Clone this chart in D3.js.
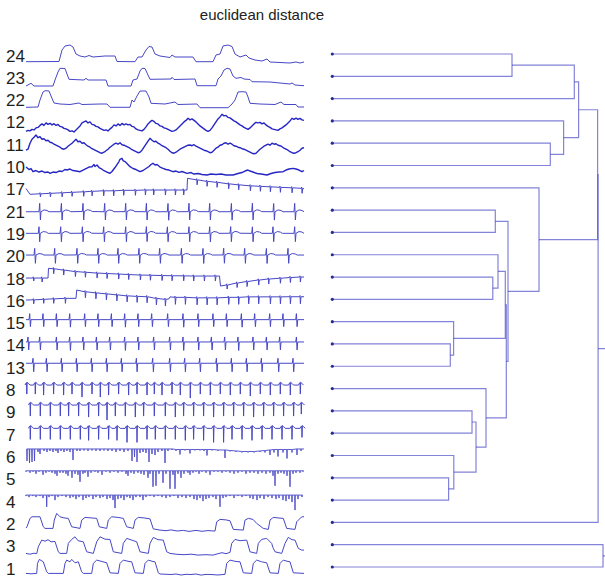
<!DOCTYPE html>
<html>
<head>
<meta charset="utf-8">
<title>euclidean distance</title>
<script src="https://d3js.org/d3.v7.min.js"></script>
<style>
body { margin: 0; background: #fff; font-family: "Liberation Sans", Arial, sans-serif; }
svg { display: block; }
</style>
</head>
<body>
<svg width="605" height="579"></svg>
<script>
// leaf order of the dendrogram, top to bottom
var leafOrder = [24,23,22,12,11,10,17,21,19,20,18,16,15,14,13,8,9,7,6,5,4,2,3,1];

// linkage rows: [cluster a, cluster b, distance]; new clusters numbered from 25
var linkage = [
  [5, 4, 116.3], [14, 13, 118], [15, 26, 121.3], [6, 25, 121.5],
  [9, 7, 139.7], [29, 28, 143.7], [8, 30, 153.7], [18, 16, 160.5],
  [21, 19, 163], [20, 32, 165.7], [34, 27, 173], [35, 31, 174],
  [33, 36, 175.7], [24, 23, 179.7], [17, 37, 206.7], [11, 10, 218],
  [12, 40, 231.3], [38, 22, 242], [42, 41, 246.3], [43, 39, 265.3],
  [44, 2, 265.8], [3, 1, 270.7], [45, 46, 285]
];

// ---- time series, [time, amplitude] ----
var s24 = [[0,-7.7],[33,-7.5],[36,4],[39,8],[44,9],[47,7],[50,0],[54,-2],[59,-3],[63,-1.5],[67,-3],[79,-2],[89,-2],[91,-7.5],[109,-7.7],[112,-3],[116,-3],[120,4],[123,7.5],[126,7],[129,0],[134,-2],[144,-3.5],[146,-1],[149,-3],[167,-3],[170,-7.7],[187,-7.7],[190,-1],[194,0],[197,8],[202,9],[206,7.5],[209,0],[214,-3],[220,-1],[223,-4],[229,-6],[236,-7],[241,-5],[244,-8],[264,-9],[270,-8],[274,-9],[278,-8]];
var s23 = [[0,-9.7],[5,-7],[8,-9.7],[27,-9.7],[29,-3.7],[32,4.3],[34,8],[39,7.8],[41,2.3],[43,-3],[58,-3.7],[60,-2],[62,-3.7],[80,-3.7],[82,-9.7],[105,-9.7],[107,-3.7],[111,-2.7],[114,5.3],[116,8],[119,7.8],[122,1.3],[124,-3],[145,-2.7],[146,-1],[148,-3.2],[169,-2.7],[171,-9.4],[190,-9.4],[192,-2.7],[195,0.3],[198,6.3],[201,8],[204,7.3],[207,0.3],[210,-2],[215,-1.2],[218,-2.7],[224,-3.2],[226,-5.4],[244,-5.7],[254,-6.7],[264,-7.7],[266,-6.7],[269,-8.7],[278,-9.4]];
var s22 = [[0,-8.7],[12,-8.4],[14,-1.4],[17,6.6],[19,7.9],[23,7.6],[25,2.6],[28,-4.4],[34,-5.4],[44,-5.9],[53,-4.4],[56,-5.9],[74,-5.4],[81,-5.4],[84,-8.7],[104,-8.7],[106,-1.4],[108,-3.4],[111,2.6],[114,7.6],[120,7.6],[123,1.6],[125,-4.7],[139,-5.4],[149,-3.4],[152,-5.9],[171,-5.4],[174,-9.1],[202,-9.1],[206,-5.4],[209,-1.4],[212,6.6],[216,6.9],[220,6.6],[222,1.6],[224,-4.7],[234,-5.4],[249,-5.9],[255,-3.4],[258,-5.9],[270,-5.9],[272,-8.4],[278,-8.4]];
var s12 = [[0,-10.5],[2,-9.5],[4,-10],[6,-8.5],[8,-9],[10,-7],[12,-6.5],[14,-4.5],[16,-3],[18,-4.5],[20,-2],[22,-3.5],[24,-2.4],[26,-4],[28,-2.8],[30,-4.5],[32,-3.5],[34,-5.5],[36,-6],[38,-7.5],[40,-8],[42,-9],[44,-10.5],[46,-10],[48,-11],[50,-9],[52,-7],[54,-5],[56,-2],[58,-1],[60,0],[62,-2],[64,-1],[66,-3.5],[68,-4],[70,-5.5],[72,-6],[74,-7.5],[76,-8.5],[78,-9.5],[80,-9],[82,-10],[84,-8],[86,-6.5],[88,-4],[90,-5],[92,-3],[94,-4.5],[96,-2.5],[98,-4],[100,-3],[102,-4],[104,-3.5],[106,-5.5],[108,-6],[110,-8],[112,-9],[114,-9.5],[116,-10],[118,-8.5],[120,-6],[122,-3],[124,-1],[126,0.5],[128,-0.5],[130,-2.5],[132,-3],[134,-5],[136,-5.5],[138,-7],[140,-7.5],[142,-8.5],[144,-9.5],[146,-10.5],[148,-10],[150,-9],[152,-7],[154,-5],[156,-3],[158,-1],[160,0.5],[162,2.6],[164,1],[166,2],[168,0.5],[170,-1],[172,-3],[174,-5],[176,-6.5],[178,-8],[180,-9.5],[182,-10.5],[184,-9.5],[186,-7],[188,-4],[190,-1],[192,2],[194,4],[196,6.6],[198,5],[200,5.5],[202,3.5],[204,3],[206,1.5],[208,0],[210,-1],[212,-2.5],[214,-4],[216,-5],[218,-6.5],[220,-7.5],[222,-8.5],[224,-7],[226,-5],[228,-3],[230,-1.4],[232,-2],[234,-1.5],[236,-3],[238,-2],[240,-4],[242,-5.5],[244,-6.5],[246,-8],[248,-8.5],[250,-9],[252,-9.5],[254,-8],[256,-7],[258,-5.5],[260,-4],[262,-2],[264,0],[266,2.6],[268,1.5],[270,2.8],[272,1.5],[274,2.5],[276,1],[278,0.5]];
var s11 = [[0,-7],[2,-6],[4,0],[6,4],[8,6],[10,8.2],[12,5.5],[14,6.5],[16,4],[18,4.5],[20,2.5],[22,3],[24,1],[26,0.5],[28,-1],[30,-2],[32,-3],[34,-4],[36,-5.5],[38,-6],[40,-5],[42,-3],[44,-1.5],[46,0],[48,2],[50,3.9],[52,1.5],[54,2],[56,0],[58,0.5],[60,-1.5],[62,-3],[64,-4],[66,-5.5],[68,-6.5],[70,-7.5],[72,-8.5],[74,-9.5],[76,-10],[78,-9],[80,-7.5],[82,-6],[84,-4],[86,-2.5],[88,-1],[90,0],[92,-1],[94,0.5],[96,-1.5],[98,-2],[100,-3],[102,-4],[104,-5],[106,-6.5],[108,-7.5],[110,-8.5],[112,-9.5],[114,-9],[116,-7],[118,-4],[120,-1],[122,2],[124,4.9],[126,3],[128,1.5],[130,2],[132,0],[134,-1],[136,-2.5],[138,-3.5],[140,-4.5],[142,-6],[144,-8],[146,-9.5],[148,-10],[150,-9],[152,-7.5],[154,-6],[156,-5],[158,-4],[160,-3],[162,-2],[164,-1.8],[166,-2.5],[168,-1.5],[170,-3],[172,-4],[174,-5],[176,-6],[178,-7],[180,-7.5],[182,-8.5],[184,-9.5],[186,-9],[188,-7],[190,-5],[192,-4],[194,-2],[196,-1.5],[198,0],[200,0.5],[202,-1],[204,0],[206,-1],[208,-2.5],[210,-3],[212,-4],[214,-4.5],[216,-5.5],[218,-6],[220,-7],[222,-8],[224,-9],[226,-10],[228,-10.5],[230,-10],[232,-8],[234,-6],[236,-4.5],[238,-3],[240,-2],[242,-1],[244,-2],[246,0],[248,-1],[250,-0.5],[252,-2],[254,-2.5],[256,-3.5],[258,-5],[260,-6],[262,-7],[264,-8.5],[266,-9.5],[268,-10],[270,-9.5],[272,-8.5],[274,-7],[276,-5],[278,-4.5]];
var s10 = [[0,-1.5],[3,-4],[5,-3],[7,-6.2],[10,-5],[13,-6.5],[16,-5.5],[19,-7],[22,-6.5],[24,-7.8],[27,-6.5],[30,-7],[33,-5.5],[36,-6],[39,-4],[41,-4.5],[44,-3.5],[47,-5],[50,-5.5],[54,-6.2],[57,-4.5],[60,-3],[63,-1.5],[66,-1.2],[68,1],[69,-1],[71,0.5],[73,-2],[75,-3],[77,-4.5],[80,-6],[82,-7],[84,-7.8],[86,-6],[89,-2],[91,1],[93,4],[94,6.2],[96,7.2],[97,5],[99,4],[101,2],[104,-1.2],[107,-3],[110,-4],[114,-6.2],[117,-5],[120,-3],[123,-1],[125,1],[127,2.2],[129,0.5],[131,1],[134,-1.5],[137,-2.8],[140,-4],[143,-4.5],[147,-6.2],[150,-5.5],[153,-6.8],[156,-6],[161,-7.8],[165,-7],[168,-8.5],[172,-8],[176,-9],[181,-9.5],[185,-8.5],[190,-9],[195,-8.5],[200,-9.5],[207,-9.5],[212,-8],[216,-7],[219,-5.5],[222,-4.5],[224,-5.5],[227,-6.5],[231,-8],[235,-8.5],[241,-9.5],[245,-8],[249,-7],[253,-6.5],[257,-6.2],[260,-4.5],[263,-3.5],[267,-2.8],[270,-3.5],[273,-4.5],[276,-6.2],[278,-5]];

// beats with a small down tick: [time, baseline, depth]
var s17 = [[0,-0.7,0],[4,-6.5,0],[14,-6,3],[24,-5.5,3.5],[35.7,-5,4],[45.7,-4.5,4],[57.3,-4,4.5],[65.7,-3.5,4.5],[77.3,-3,5],[87.3,-3,5],[97.3,-2.5,5],[109,-2.5,5],[119,-2.2,5],[127.3,-2.2,5],[139,-2.2,5],[149,-2.2,5],[157.3,-2.2,5],[161,-2.2,0],[161.5,9.5,0],[170.7,8,5],[180.7,6.5,5],[190.7,5.5,5],[202.3,4,5],[212.3,3,5],[224,2,5],[234,1.5,5],[244,1,5],[254,0.5,5],[265.7,0,5],[275.7,-0.5,5],[278,-1,0]];
var s18 = [[0,-1,0],[7.3,-1,3],[15.7,-1,4],[22,-1,0],[22.5,8.7,0],[27.3,8.3,5],[37.3,7,5],[49,5.5,5],[59,4.8,5],[70.7,4,5],[80.7,3.5,5],[92.3,3,5],[102.3,2.5,5],[114,2,5],[124,1.8,5],[135.7,1.5,5],[145.7,1.3,5],[157.3,1.2,5],[167.3,1,5],[178,1,5],[189,1,5],[193.5,1,0],[194.5,-9,0],[200.7,-8,4],[210.7,-6,4.5],[220.7,-4.5,5],[232.3,-3,5],[242.3,-2,5],[254,-1.2,5],[264,-0.5,5],[274,0,5],[278,0,0]];
var s16 = [[0,-0.7,0],[7.3,-0.5,4],[17.3,0,4],[27.3,0.5,4.5],[39,1,5],[50,1,0],[50.7,9.3,0],[59,7.6,6],[69.5,6.5,6],[80,5.5,6],[90.5,4.5,6],[100.7,3.5,6],[110.7,3,6],[120.7,2.6,6],[130,1,6.5],[139,0,6.5],[143,0.5,0],[144,2.5,0],[149,2,7],[159,2,7],[170.7,1.5,7],[180.7,1.5,7],[190.7,1.5,7],[202.3,2,7],[212.3,2,7],[222.3,2.5,7],[232.3,2.5,7],[244,2.5,7],[254,2.5,7],[264,2.6,7],[274,2.6,7],[278,2.6,0]];

// QRS-like beats: [time, baseline, up, down]
var s21 = [[14,-1.6,8.4,8.3],[35.7,-1.6,8.4,8.3],[57.3,-1.4,8.2,8.5],[79,-1.6,8.4,8.3],[100,-1.5,8.3,8.4],[120.7,-1.6,8.4,8.3],[142.3,-1.6,8.2,8.5],[163.3,-1.5,8.4,8.3],[184,-1.6,8.4,8.3],[205.7,-1.6,8.3,8.4],[226.7,-1.5,8.4,8.3],[248,-1.6,8.2,8.4],[269,-1.6,8.4,8.3]];
var s19 = [[13.3,-0.9,6.6,8.4],[35,-0.9,6.6,8.4],[56.7,-0.8,6.5,8.5],[78,-0.9,6.6,8.4],[100,-0.9,6.6,8.4],[120.7,-0.8,6.6,8.3],[141.7,-0.9,6.5,8.4],[163.3,-0.9,6.6,8.4],[184,-0.9,6.6,8.5],[205,-0.8,6.6,8.4],[226.7,-0.9,6.5,8.4],[247.3,-0.9,6.6,8.4],[269,-0.9,6.6,8.3]];
var s20 = [[9,-0.3,6.7,8.3],[29,-0.3,6.7,8.3],[51.3,-0.2,6.6,8.4],[72.3,-0.3,6.7,8.3],[92.3,-0.3,6.7,8.3],[113.3,-0.2,6.6,8.4],[134,-0.3,6.7,8.3],[155.7,-0.3,6.7,8.3],[177.3,-0.3,6.6,8.4],[198,-0.2,6.7,8.3],[219,-0.3,6.7,8.3],[240.7,-0.3,6.6,8.4],[262.3,-0.3,6.7,8.3]];
var s15 = [[4,2,6,7],[17.3,2,6,7],[30.7,2,6,7],[44,2,6,7.5],[59,2,6,7],[72.3,2,6,7],[85.7,2,6,7],[99,2,6,7.5],[112.3,2,6,7],[126,2,6,7],[142,2,6,7],[157.3,2,6,7.5],[172.3,2,6,7],[187.3,2,6,7],[200.7,2,6,7],[215.7,2,6,7.5],[229,2,6,7],[244,2,6,7],[257.3,2,6,7],[270.7,2,6,7]];
var s14 = [[2.3,2,5,8],[14,2,5,8],[30.7,2,5,8],[44,2,5,8.5],[57.3,2,5,8],[70.7,2,5,8],[84,2,5,8],[99,2,5,8.5],[112.3,2,5,8],[128,2,5,8],[144,2,5,8],[157.3,2,5,8.5],[172.3,2,5,8],[185.7,2,5,8],[199,2,5,8],[212.3,2,5,8.5],[227.3,2,5,8],[240.7,2,5,8],[254,2,5,8],[270.7,2,5,8]];
var s13 = [[7.3,3,5,8.5],[20.7,3,5,8.5],[35.7,3,5,8.5],[50.7,3,5,8.5],[65.7,3,5,8.5],[80.7,3,5,8.5],[95.7,3,5,8.5],[110.7,3,5,8.5],[127,3,5,8.5],[144,3,5,8.5],[159,3,5,8.5],[174,3,5,8.5],[190.7,3,5,8.5],[205.7,3,5,8.5],[220.7,3,5,8.5],[235.7,3,5,8.5],[252.3,3,5,8.5],[267.3,3,5,8.5]];

// hooked beats: [time, baseline, depth]
var s8 = [[0.5,3.5,9],[9,3.5,9],[17.3,3.5,10],[27.3,3.5,9],[37.3,3.5,10],[45.7,3.5,9],[55.7,3.5,12],[65.7,3.5,9],[74,3.5,12],[82.3,3.5,10],[92.3,3.5,9],[102.3,3.5,10],[110.7,3.5,9],[120.7,3.5,10],[128,3.5,9],[135.7,3.5,10],[145.7,3.5,9],[154,3.5,10],[164,3.5,13],[174,3.5,9],[184,3.5,10],[194,3.5,9],[204,3.5,10],[214,3.5,9],[224,3.5,11],[234,3.5,9],[244,3.5,10],[254,3.5,9],[264,3.5,10],[274,3.5,9]];
var s9 = [[4,5.8,11],[14,5.8,11],[24,5.8,11],[34,5.8,11],[42.3,5.8,11],[52.3,5.8,11],[62.3,5.8,12],[72.3,5.8,11],[80.7,5.8,15],[89,5.8,11],[99,5.8,11],[109,5.8,12],[117.3,5.8,11],[128,5.8,11],[139,5.8,11],[149,5.8,12],[157.3,5.8,11],[167.3,5.8,11],[177.3,5.8,11],[187.3,5.8,12],[197.3,5.8,11],[207.3,5.8,11],[217.3,5.8,11],[227.3,5.8,12],[237.3,5.8,11],[247.3,5.8,11],[257.3,5.8,11],[267.3,5.8,11],[275,5.8,9]];
var s7 = [[4,4.8,11],[14,4.8,11],[24,4.8,11],[34,4.8,11],[44,4.8,11],[54,4.8,11],[62.3,4.8,12],[72.3,4.8,11],[82.3,4.8,11],[90.7,4.8,12],[100.7,4.8,14],[110.7,4.8,14],[120.7,4.8,11],[129,4.8,11],[139,4.8,11],[149,4.8,11],[159,4.8,12],[167.3,4.8,11],[177.3,4.8,12],[187.3,4.8,14],[197.3,4.8,14],[205.7,4.8,11],[215.7,4.8,11],[225.7,4.8,12],[235.7,4.8,11],[245.7,4.8,11],[255.7,4.8,11],[265.7,4.8,11],[275.7,4.8,9]];

// noisy lines with down spikes: [time, baseline, depth]
var s6 = [[1,6.5,12],[3.5,6.5,14],[6,6.5,13],[8.5,6.5,12],[12,6.5,3],[14,6.5,5],[18,6.5,2],[21,6.5,3],[24,6.5,2],[27,6.5,3],[30,6.5,2],[32,6.5,4],[35,6.5,2],[38,6.5,3],[41,6.5,2],[44,6.5,3],[47,6.5,11],[51,6.5,2],[54,6.5,2],[58,6.5,1.5],[62,6.5,2],[66,6.5,1.5],[70,6.5,2],[74,6.5,2],[78,6.5,1.5],[82,6.5,2],[86,6.5,2],[90,6.5,3],[94,6.5,2],[98,6.5,3],[102,6.5,2],[106,6.5,12],[108.5,6.5,8],[111,6.5,13],[114,6.5,4],[117,6.5,3],[120,6.5,4],[123,6.5,13],[126,6.5,5],[129,6.5,6],[132,6.5,3],[136,6.5,2],[139,6.5,14],[142,6.5,2],[146,6.5,1],[150,6,1.5],[154,6,5],[159,6,1],[164,6,4],[169,6,1],[174,6,1],[178,6,1.5],[181,6,6],[186,6,1],[192,5.5,1],[199,5.5,8],[204,5,1],[210,4.5,1],[216,4,1],[222,4,1],[228,4,1],[234,4.5,1],[239,5,2],[244,5.5,5],[248,6,3],[252,6,7],[257,6,3],[261,6,9],[266,6,3],[271,6.5,6],[275,6.5,2],[278,6.5,0]];
var s5 = [[0,7,1],[4,7,2],[7,7,1],[10,7,3],[13,7,1],[17,7,4],[20,7,2],[23,7,1],[26,7,2],[29,7,3],[31,7,5],[34,7,2],[37,7,2],[40,7,3],[42,7,5],[46,7,7],[49,7,3],[52,7,4],[54,7,11],[57,7,3],[59,7,2],[62,7,6],[65,7,2],[69,7,1],[72,7,2],[76,7,4],[80,7,1],[84,7,2],[88,7,1],[92,7,2],[96,7,1],[100,7,3],[102,7,5],[105,7,2],[108,7,3],[112,7,2],[115,7,3],[118,7,4],[122,7,7],[124,7,3],[127,7,16],[130,7,15],[133,7,3],[137,7,12],[140,7,3],[144,7,18],[147,7,4],[149,7,18],[152,7,3],[155,7,7],[158,7,3],[162,7,2],[164,7,4],[167,7,2],[170,7,1],[173,7,3],[176,7,1],[180,7,2],[184,7,4],[188,7,1],[192,7,1],[196,7,2],[200,7,1],[204,7,2],[208,7,3],[212,7,2],[216,7,1],[220,7,3],[224,7,2],[228,7,2],[232,7,3],[236,7,2],[240,7,3],[244,7,2],[247,7,5],[249,7,15],[252,7,3],[255,7,2],[258,7,3],[261,7,5],[264,7,16],[267,7,3],[270,7,2],[274,7,2],[277,7,1]];
var s4 = [[0,5,1],[3,5,2],[7,5,1],[10,5,2],[14,5,1],[17,5,3],[20.7,5,11.7],[23,5,2],[26,5,1],[29,5,5],[32,5,2],[36,5,1],[40,5,2],[44,5,3],[47,5,2],[50,5,4],[53,5,2],[57,5,5],[60,5,3],[63,5,2],[67,5,4],[70,5,2],[74,5,3],[77,5,2],[81,5,4],[84,5,3],[87,5,5],[89,5,13],[92,5,4],[95,5,3],[98,5,5],[101,5,2],[104,5,3],[107,5,5],[110,5,2],[114,5,2],[117,5,5],[120,5,2],[124,5,1],[128,5,2],[132,5,1],[136,5,2],[140,5,3],[144,5,2],[148,5,1],[152,5,3],[156,5,2],[160,5,3],[164,5,2],[168,5,4],[171,5,5],[174,5,3],[177,5,6],[180,5,4],[183,5,3],[187,5,2],[190,5,4],[194,5,11.7],[197,5,3],[200,5,2],[204,5,1],[208,5,3],[212,5,1],[216,5,2],[220,5,1],[224,5,3],[227,5,4],[231,5,5],[234,5,3],[238,5,4],[242,5,2],[246,5,3],[250,5,4],[253,5,3],[257,5,5],[260,5,6],[263,5,4],[266,5,7],[269,5,15],[272,5,4],[276,5,2]];

// pulse trains, [time, amplitude]
var s2 = [[0,-5.7],[1,-4.4],[4,4],[6,5.6],[10,5.6],[14,5.6],[17.3,-4.4],[19,-6],[27,-6],[28.3,2.3],[30.7,9],[34,5.6],[38,4.5],[42.3,4],[45.7,-4.4],[54,-6],[55.7,2.3],[59,5],[65,4.5],[70.7,4],[73.3,-4.4],[80.7,-6],[82.3,2.3],[85.7,5.6],[92,5],[97.3,4],[100.7,-4.4],[107.3,-6],[109,2.3],[112.3,5],[118,4.5],[124,3.5],[127.3,-6.5],[134,-7.7],[140,-8.3],[145,-7.5],[151,-8.6],[157.3,-8],[163,-9],[170,-8],[176,-8.9],[182,-8.2],[189,-8.7],[190.7,0.6],[194,3],[200,2.5],[204,1.6],[207.3,-7],[217.3,-7.7],[219,2.3],[222.3,4],[227,3],[230.7,-1],[237.3,-6],[242.3,-7],[244,2.3],[247.3,5],[252,4.5],[257.3,4],[260.7,-6],[269,-7],[270.7,0.6],[275.7,5.6],[278,5.6]];
var s3 = [[0,-8.7],[4,-9.5],[8,-8.5],[10.7,-9],[12.3,-2.1],[15.7,4.6],[19,3.5],[22,5],[25,2.9],[29,3.2],[32.3,-7.1],[34,-8.7],[40.7,-8.7],[42.3,1.3],[45.7,5.3],[49,7.9],[52,4],[57.3,2.9],[60.7,-7.1],[67.3,-8.7],[70.7,2.9],[74,7.9],[79,5.5],[84,5.3],[87.3,-7.1],[95.7,-8.7],[97.3,1.3],[100.7,6.3],[106,4.5],[110.7,2.9],[114,-7.1],[122.3,-8.7],[124,1.3],[127.3,7.3],[132,5],[137.3,4.6],[140.7,-7.1],[144,-8.7],[150,-9.5],[158,-10],[165,-9.5],[172,-10.4],[180,-10],[187,-10.4],[192,-9],[196,-8],[200,-9],[204,-7.7],[205.7,1.3],[209,5.3],[214,4],[220.7,4.6],[224,-7.1],[230.7,-8.7],[232.3,1.3],[235.7,5.3],[240.7,6.3],[245.7,1.3],[247,-3],[249,-7.1],[255.7,-8.7],[259,1.3],[262.3,7.3],[266,5],[269,4.6],[272.3,-3.7],[275.7,-5.4],[278,-5.4]];
var s1 = [[0,-6.4],[5,-6.8],[10.7,-6.4],[11.5,3.6],[13.3,7.6],[17.3,5.2],[20.7,-4.8],[22.3,-6.4],[37.3,-6.4],[39,3.6],[40.7,6.9],[44,5.2],[45.7,7.6],[49,4.2],[52.3,5.2],[55.7,-4.8],[57.3,-6.4],[65.7,-6.4],[67.3,3.6],[70.7,6.9],[76,5.5],[80.7,4.2],[84,-5.8],[92.3,-6.4],[94,3.6],[97.3,6.9],[103,5.5],[105.7,5.2],[109,-5.8],[117.3,-6.4],[119,3.6],[122.3,6.9],[127,5.5],[129,5.2],[132.3,-5.8],[134,-7],[145,-7.5],[150,-7],[155,-8],[160,-7.3],[165,-7.5],[170,-7],[175,-8.1],[180,-7.4],[185,-7.5],[192,-8],[199,-7.3],[200.7,3.6],[204,6.9],[210,5.5],[214,5.2],[217.3,-5.8],[225.7,-6.4],[227.3,3.6],[230.7,6.9],[235.7,5.2],[240.7,4.2],[244,-5.8],[252.3,-6.4],[254,3.6],[257.3,6.9],[262,5.5],[264,5.2],[267.3,-5.8],[278,-6.4]];

var series = {
  24: {kind: "line", data: s24}, 23: {kind: "line", data: s23}, 22: {kind: "line", data: s22},
  12: {kind: "line", data: s12, bold: true}, 11: {kind: "line", data: s11, bold: true}, 10: {kind: "line", data: s10, bold: true},
  17: {kind: "tick", data: s17}, 21: {kind: "qrs", data: s21, tw: 1.8}, 19: {kind: "qrs", data: s19, tw: 1.8},
  20: {kind: "qrs", data: s20, tw: 1.5}, 18: {kind: "tick", data: s18}, 16: {kind: "tick", data: s16},
  15: {kind: "qrs", data: s15, tw: 0}, 14: {kind: "qrs", data: s14, tw: 0}, 13: {kind: "qrs", data: s13, tw: 0},
  8: {kind: "hook", data: s8}, 9: {kind: "hook", data: s9}, 7: {kind: "hook", data: s7},
  6: {kind: "spike", data: s6}, 5: {kind: "spike", data: s5}, 4: {kind: "spike", data: s4},
  2: {kind: "line", data: s2}, 3: {kind: "line", data: s3}, 1: {kind: "line", data: s1}
};

var svg = d3.select("svg");

var yLeaf = d3.scalePoint().domain(leafOrder).range([54, 567]);
var xTime = d3.scaleLinear().domain([0, 278]).range([26, 304]);
var amp = d3.scaleLinear().domain([0, 10]).range([0, -10]);
var xDist = d3.scaleLinear().domain([0, 273]).range([332.3, 605.3]);

// turn a beat record into the little glyph of points it stands for
function beatPoints(s, r) {
  var t = r[0], b = r[1];
  if (s.kind === "tick") {
    if (r[2] === 0) return [[t, b]];
    return [[t - 0.5, b], [t, b + 1.2], [t + 0.4, b - r[2]], [t + 1, b]];
  }
  if (s.kind === "spike") {
    if (r[2] === 0) return [[t, b]];
    return [[t - 0.3, b], [t, b - r[2]], [t + 0.3, b + 0.3], [t + 0.6, b]];
  }
  if (s.kind === "hook") {
    return [[t - 1.5, b], [t - 0.5, b + 2], [t, b + 2.5], [t + 0.3, b - r[2]], [t + 0.7, b + 2.8], [t + 1.8, b + 1.8], [t + 3.5, b]];
  }
  // qrs
  var p = [[t - 1, b], [t - 0.3, b + r[2]], [t + 0.4, b - r[3]], [t + 1, b]];
  if (s.tw) p.push([t + 4, b + s.tw], [t + 7, b + s.tw * 0.7], [t + 9, b]);
  return p;
}

function seriesPoints(s) {
  if (s.kind === "line") return s.data;
  var pts = [];
  if (s.kind === "qrs") pts.push([0, s.data[0][1]]);
  s.data.forEach(function (r) { pts = pts.concat(beatPoints(s, r)); });
  if (s.kind === "qrs") pts.push([278, s.data[s.data.length - 1][1]]);
  return pts;
}

// title
svg.append("text")
  .attr("x", 262).attr("y", 20)
  .attr("text-anchor", "middle")
  .attr("font-size", "15px")
  .attr("fill", "#222")
  .text("euclidean distance");

// series
leafOrder.forEach(function (id) {
  var s = series[id], y0 = yLeaf(id);
  var line = d3.line()
    .x(function (d) { return xTime(d[0]); })
    .y(function (d) { return y0 + amp(d[1]); });
  svg.append("path")
    .attr("d", line(seriesPoints(s)))
    .attr("fill", "none")
    .attr("stroke", s.bold ? "#2626c4" : "#4747c6")
    .attr("stroke-width", s.bold ? 1.4 : (s.kind === "spike" ? 0.9 : 1))
    .attr("stroke-linejoin", "round");
});

// row labels
svg.append("g").selectAll("text")
  .data(leafOrder)
  .join("text")
  .attr("x", 6)
  .attr("y", function (d) { return yLeaf(d) + 7.5; })
  .attr("font-size", "17px")
  .attr("fill", "#1e1e1e")
  .text(function (d) { return d; });

// dendrogram
var nodes = {};
leafOrder.forEach(function (id) { nodes[id] = {x: xDist(0), y: yLeaf(id)}; });
var dendro = svg.append("g")
  .attr("fill", "none")
  .attr("stroke", "#3030c0")
  .attr("stroke-opacity", 0.6)
  .attr("stroke-width", 1.2);
linkage.forEach(function (m, i) {
  var a = nodes[m[0]], b = nodes[m[1]], hx = xDist(m[2]);
  dendro.append("path")
    .attr("d", "M" + a.x + "," + a.y + "H" + hx + "V" + b.y + "H" + b.x);
  nodes[25 + i] = {x: hx, y: (a.y + b.y) / 2};
});

// leaf dots
svg.append("g").selectAll("circle")
  .data(leafOrder)
  .join("circle")
  .attr("cx", xDist(0))
  .attr("cy", function (d) { return yLeaf(d); })
  .attr("r", 1.6)
  .attr("fill", "#2a2a90");
</script>
</body>
</html>
